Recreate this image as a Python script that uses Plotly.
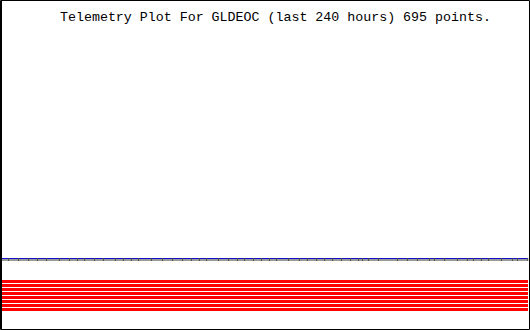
import plotly.graph_objects as go

# ---- data ----
span_hours = [0.0, 240.0]
sample_hours = [2.97, 7.53, 12.09, 16.20, 20.30, 26.24, 30.80, 34.45, 37.65, 42.21,
                46.31, 51.79, 55.44, 59.09, 62.28, 68.21, 73.23, 77.79, 82.36, 86.46,
                90.11, 93.31, 98.78, 103.34, 107.45, 110.64, 114.75, 118.40, 122.05,
                125.24, 130.72, 135.74, 139.39, 143.50, 147.15, 150.80, 154.90, 159.01,
                162.66, 164.48, 167.22, 171.78, 180.45, 185.01, 189.58, 195.05, 197.33,
                201.90, 207.83, 212.39, 215.13, 218.78, 221.97, 227.91, 232.92, 235.21,
                239.90]
blue_level = 71.5
gray_level = 70.0
tick_low = 69.0
tick_high = 72.0
red_levels = [48.5, 44.5, 40.5, 36.5, 32.5, 28.5, 24.5, 20.5]
title_text = "Telemetry Plot For GLDEOC (last 240 hours) 695 points."

W, H = 530, 330
fig = go.Figure()

# red channels
for lv in red_levels:
    fig.add_trace(go.Scatter(x=span_hours, y=[lv, lv], mode="lines",
                             line=dict(color="#ff0000", width=3), hoverinfo="skip"))

# gray baseline
fig.add_trace(go.Scatter(x=span_hours, y=[gray_level, gray_level], mode="lines",
                         line=dict(color="#999999", width=2), hoverinfo="skip"))
# blue line
fig.add_trace(go.Scatter(x=span_hours, y=[blue_level, blue_level], mode="lines",
                         line=dict(color="#1010c8", width=1), hoverinfo="skip"))

# sample ticks
tx, ty = [], []
for h in sample_hours:
    tx += [h, h, None]
    ty += [tick_low, tick_high, None]
fig.add_trace(go.Scatter(x=tx, y=ty, mode="lines",
                         line=dict(color="#505050", width=1), hoverinfo="skip"))

# axis ranges: hour 0 at px 2, hour 240 at px 528
per_px = 240.0 / 526.0
fig.update_xaxes(range=[-2 * per_px, 240 + 2 * per_px], visible=False,
                 showgrid=False, zeroline=False, fixedrange=True)
fig.update_yaxes(range=[0, 330], visible=False, showgrid=False,
                 zeroline=False, fixedrange=True)

fig.add_annotation(text=title_text, x=275 / W, y=1 - 17.5 / H, xref="paper",
                   yref="paper", xanchor="center", yanchor="middle", showarrow=False,
                   font=dict(family="Liberation Mono", size=13.3, color="black"))

# frame
fig.add_shape(type="rect", xref="paper", yref="paper",
              x0=0.5 / W, x1=529.5 / W, y0=0.5 / H, y1=1 - 0.5 / H,
              line=dict(color="black", width=1))
fig.add_shape(type="line", xref="paper", yref="paper",
              x0=1.5 / W, x1=1.5 / W, y0=0, y1=1,
              line=dict(color="black", width=1))

fig.update_layout(width=W, height=H, margin=dict(l=0, r=0, t=0, b=0, pad=0),
                  paper_bgcolor="white", plot_bgcolor="white", showlegend=False)

fig.write_html("out.html", config={"displayModeBar": False})
